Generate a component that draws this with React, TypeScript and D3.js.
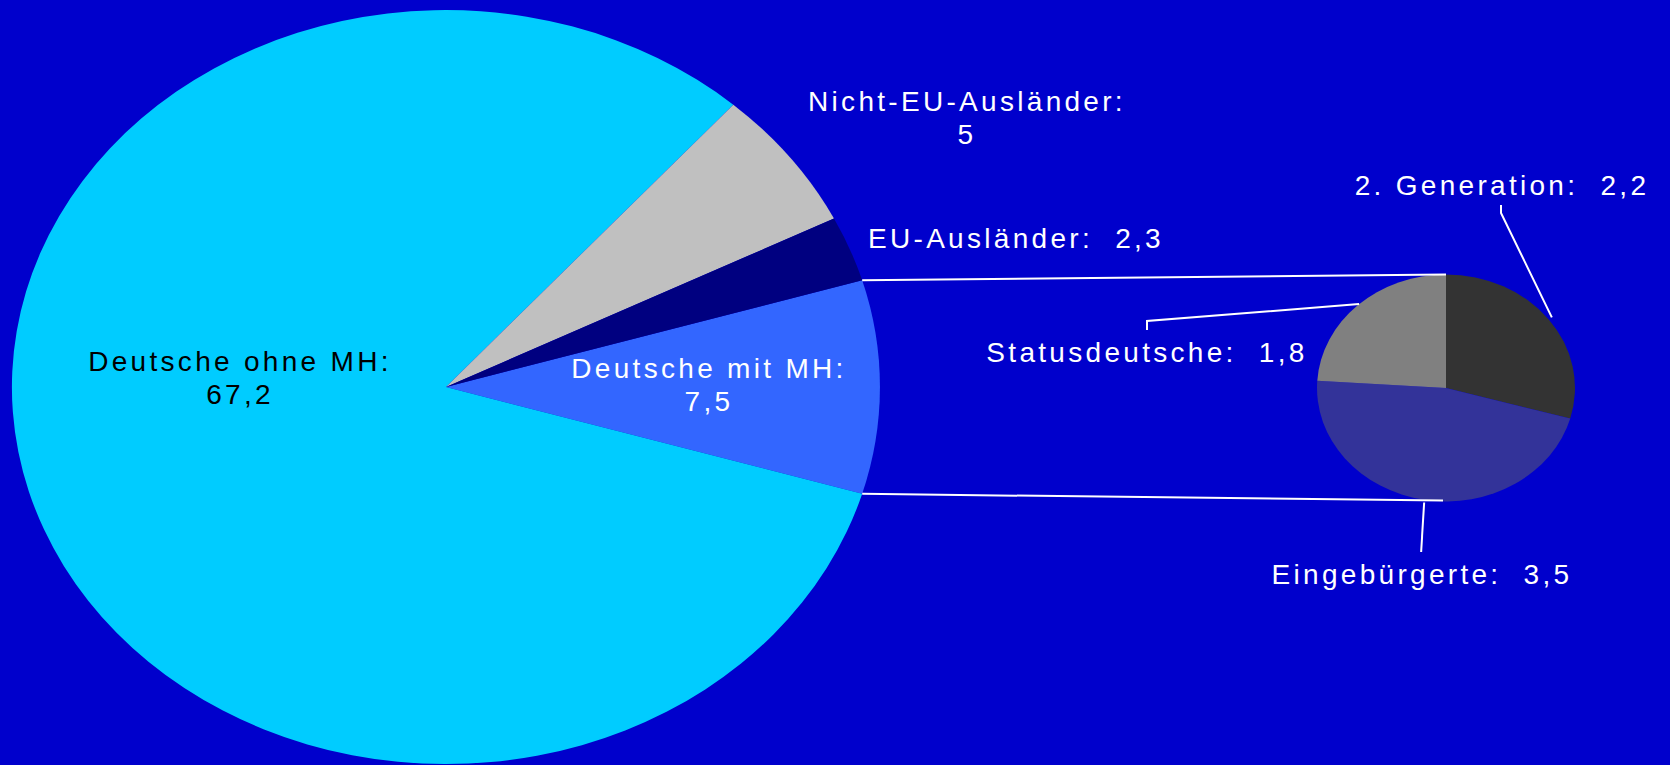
import React, { useEffect } from "react";
import * as d3 from "d3";

const mainCategories = ["Deutsche mit MH", "Deutsche ohne MH", "Nicht-EU-Ausländer", "EU-Ausländer"];
const mainValues = [7.5, 67.2, 5, 2.3];
const mainColors = ["#3366FF", "#00CCFF", "#C0C0C0", "#000080"];

const subCategories = ["2. Generation", "Eingebürgerte", "Statusdeutsche"];
const subValues = [2.2, 3.5, 1.8];
const subColors = ["#333333", "#333399", "#808080"];

const W = 1670;
const H = 765;
const BG = "#0000CC";
const FONT = "'Liberation Sans', Arial, sans-serif";

const de = d3.formatLocale({ decimal: ",", thousands: ".", grouping: [3], currency: ["", " €"] });
const fmt = (v: number) => (Number.isInteger(v) ? String(v) : de.format(".1f")(v));

// main pie geometry
const M = { cx: 446, cy: 387, rx: 434, ry: 377 };
// sub pie geometry
const S = { cx: 1446, cy: 388, rx: 129, ry: 113.5 };

type LabelSpec = { lines: string[]; x: number; y: number; fill: string };

export default function App() {
  useEffect(() => {
    document.body.style.margin = "0";
    document.body.style.background = BG;
  }, []);

  const mainTotal = d3.sum(mainValues);
  const mainStart = Math.PI / 2 - (mainValues[0] / mainTotal) * Math.PI;
  const mainPie = d3
    .pie<number>()
    .sort(null)
    .value((d) => d)
    .startAngle(mainStart)
    .endAngle(mainStart + 2 * Math.PI);
  const mainArcs = mainPie(mainValues);
  const unitArc = d3.arc<d3.PieArcDatum<number>>().innerRadius(0).outerRadius(1);

  const subPie = d3
    .pie<number>()
    .sort(null)
    .value((d) => d)
    .startAngle(0)
    .endAngle(2 * Math.PI);
  const subArcs = subPie(subValues);

  const ptM = (a: number) => [M.cx + M.rx * Math.sin(a), M.cy - M.ry * Math.cos(a)];
  const ptS = (a: number, k = 1) => [S.cx + k * S.rx * Math.sin(a), S.cy - k * S.ry * Math.cos(a)];

  const topA = mainArcs[0].startAngle;
  const botA = mainArcs[0].endAngle;
  const [t1x, t1y] = ptM(topA);
  const [b1x, b1y] = ptM(botA);
  const [t2x, t2y] = ptS(0);
  const [b2x, b2y] = ptS(Math.PI);

  const mainLabels: LabelSpec[] = [
    { lines: [mainCategories[0] + ":", fmt(mainValues[0])], x: 709, y: 378, fill: "#FFFFFF" },
    { lines: [mainCategories[1] + ":", fmt(mainValues[1])], x: 240, y: 371, fill: "#000000" },
    { lines: [mainCategories[2] + ":", fmt(mainValues[2])], x: 967, y: 111, fill: "#FFFFFF" },
    { lines: [mainCategories[3] + ":  " + fmt(mainValues[3])], x: 1016, y: 248, fill: "#FFFFFF" },
  ];
  const subLabels: LabelSpec[] = [
    { lines: [subCategories[0] + ":  " + fmt(subValues[0])], x: 1502, y: 195, fill: "#FFFFFF" },
    { lines: [subCategories[1] + ":  " + fmt(subValues[1])], x: 1422, y: 584, fill: "#FFFFFF" },
    { lines: [subCategories[2] + ":  " + fmt(subValues[2])], x: 1147, y: 362, fill: "#FFFFFF" },
  ];

  // leader lines for the sub pie labels (anchored to slice edges)
  const g2 = ptS(subArcs[0].startAngle + (subArcs[0].endAngle - subArcs[0].startAngle) * 0.5, 1.03);
  const ein = ptS(Math.PI + 0.03);
  const sta = ptS(subArcs[2].startAngle + (subArcs[2].endAngle - subArcs[2].startAngle) * 0.51);
  const leaders = [
    [[1501, 205], [1501, 213], g2],
    [[ein[0] - 18, ein[1] + 1], [ein[0] - 21, 552]],
    [sta, [1147, 321], [1147, 330]],
  ];
  const line = d3.line();

  const renderLabel = (l: LabelSpec, i: number) => (
    <text
      key={i}
      x={l.x}
      y={l.y}
      fill={l.fill}
      textAnchor="middle"
      fontFamily={FONT}
      fontSize={28}
      letterSpacing={3.3}
    >
      {l.lines.map((t, j) => (
        <tspan key={j} x={l.x} dy={j === 0 ? 0 : 33} style={{ whiteSpace: "pre" }}>
          {t}
        </tspan>
      ))}
    </text>
  );

  return (
    <svg
      width={W}
      height={H}
      style={{ position: "absolute", left: 0, top: 0, display: "block", background: BG }}
    >
      <rect x={0} y={0} width={W} height={H} fill={BG} />
      <g transform={`translate(${M.cx},${M.cy}) scale(${M.rx},${M.ry})`}>
        {mainArcs.map((a, i) => (
          <path key={i} d={unitArc(a) || ""} fill={mainColors[i]} />
        ))}
      </g>
      <g transform={`translate(${S.cx},${S.cy}) scale(${S.rx},${S.ry})`}>
        {subArcs.map((a, i) => (
          <path key={i} d={unitArc(a) || ""} fill={subColors[i]} />
        ))}
      </g>
      <line x1={t1x} y1={t1y} x2={t2x} y2={t2y} stroke="#FFFFFF" strokeWidth={2} />
      <line x1={b1x} y1={b1y} x2={b2x - 3} y2={b2y - 1} stroke="#FFFFFF" strokeWidth={2} />
      {leaders.map((pts, i) => (
        <path key={i} d={line(pts as [number, number][]) || ""} fill="none" stroke="#FFFFFF" strokeWidth={2} />
      ))}
      {mainLabels.map(renderLabel)}
      {subLabels.map((l, i) => renderLabel(l, i + 10))}
    </svg>
  );
}
